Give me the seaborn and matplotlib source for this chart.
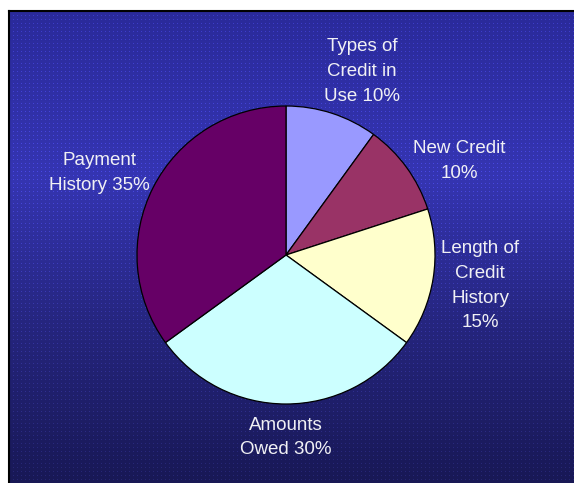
import numpy as np
import matplotlib
matplotlib.use("Agg")
import matplotlib.pyplot as plt
import seaborn as sns

# ---- data ----
categories = ["Types of\nCredit in\nUse 10%", "New Credit\n10%",
              "Length of\nCredit\nHistory\n15%", "Amounts\nOwed 30%",
              "Payment\nHistory 35%"]
values = [10, 10, 15, 30, 35]
colors = ["#9999ff", "#993366", "#ffffcc", "#ccffff", "#660066"]
label_dist = [1.335, 1.325, 1.32, 1.225, 1.37]
label_shift = [-4.5, -7.5, 0, 0, 3.2]

sns.set_theme(style="white")
plt.rcParams["font.family"] = ["Liberation Sans", "DejaVu Sans"]

W, H = 574, 483
fig = plt.figure(figsize=(W / 100, H / 100), dpi=100)
fig.patch.set_facecolor("white")

# background gradient panel
bx0, by_top = 9, 11
bw, bh = W - bx0, H - by_top
bg = fig.add_axes([bx0 / W, 0, bw / W, bh / H])
t = np.linspace(0, 1, bh)[:, None]
stops_t = [0.0, 0.35, 0.65, 1.0]
stops_c = np.array([[0x2a, 0x2a, 0x9a], [0x35, 0x35, 0xb2],
                    [0x26, 0x26, 0x80], [0x18, 0x18, 0x55]]) / 255.0
grad = np.stack([np.interp(t[:, 0], stops_t, stops_c[:, k]) for k in range(3)], axis=-1)
img = np.repeat(grad[:, None, :], bw, axis=1)
yy, xx = np.mgrid[0:bh, 0:bw]
dots = ((yy % 4 == 0) & (xx % 4 == 0))
img[dots] = np.clip(img[dots] * 1.25 + 0.03, 0, 1)
bg.imshow(img, aspect="auto", interpolation="nearest", extent=[0, 1, 0, 1])
bg.set_xticks([]); bg.set_yticks([])
for s in ["right", "bottom"]:
    bg.spines[s].set_visible(False)
for s in ["left", "top"]:
    bg.spines[s].set_color("black")
    bg.spines[s].set_linewidth(1.5)

# pie
cx, cy, r = 286, 255, 149
ax = fig.add_axes([(cx - r) / W, (H - cy - r) / H, 2 * r / W, 2 * r / H])
ax.set_facecolor("none")
wedges, texts = ax.pie(values, colors=colors, startangle=90, counterclock=False,
                       radius=1.0, labels=categories, labeldistance=1.3,
                       wedgeprops=dict(edgecolor="black", linewidth=0.9),
                       textprops=dict(color="#f0f0f4", fontsize=13.5,
                                      ha="center", va="center",
                                      linespacing=1.6))
for w, tx, d, sh in zip(wedges, texts, label_dist, label_shift):
    ang = np.deg2rad((w.theta1 + w.theta2) / 2 + sh)
    tx.set_position((d * np.cos(ang), d * np.sin(ang)))
    tx.set_ha("center"); tx.set_va("center")
ax.set_xlim(-1, 1); ax.set_ylim(-1, 1)
ax.set_aspect("equal")
ax.axis("off")

fig.savefig("out.png", dpi=100)
